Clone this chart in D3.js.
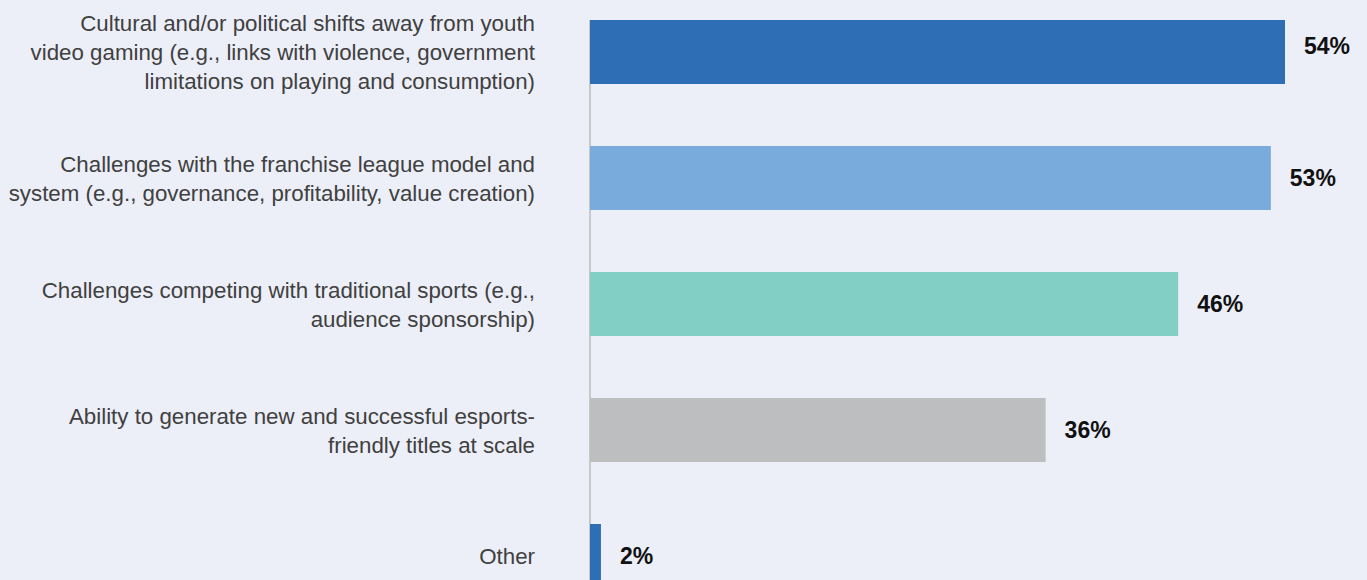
<!DOCTYPE html>
<html><head><meta charset="utf-8">
<script src="https://cdn.jsdelivr.net/npm/d3@7"></script>
<style>
html,body{margin:0;padding:0;background:#ECEFF8;overflow:hidden}
</style></head>
<body>
<svg id="c" width="1367" height="580"></svg>
<script>
const categories = [
  ["Cultural and/or political shifts away from youth","video gaming (e.g., links with violence, government","limitations on playing and consumption)"],
  ["Challenges with the franchise league model and","system (e.g., governance, profitability, value creation)"],
  ["Challenges competing with traditional sports (e.g.,","audience sponsorship)"],
  ["Ability to generate new and successful esports-","friendly titles at scale"],
  ["Other"]
];
const values = [54, 52.9, 45.7, 35.4, 0.85];
const valueLabels = ["54%", "53%", "46%", "36%", "2%"];
const colors = ["#2D6EB5", "#79ABDC", "#82CFC5", "#BDBEC0", "#2D6EB5"];

const svg = d3.select("#c");
const x0 = 590;
const x = d3.scaleLinear().domain([0, 54]).range([x0, 1285]);
const y = d3.scaleBand().domain(d3.range(categories.length)).range([-11, 619]).paddingInner(0.492).paddingOuter(0.246);

svg.append("line").attr("x1", x0).attr("x2", x0).attr("y1", 20).attr("y2", 580)
  .attr("stroke", "#C8C8C8").attr("stroke-width", 2);

svg.selectAll("rect.bar").data(values).join("rect").attr("class","bar")
  .attr("x", x(0)).attr("y", (d,i)=>y(i)).attr("width", d=>x(d)-x(0)).attr("height", y.bandwidth())
  .attr("fill", (d,i)=>colors[i]);

svg.selectAll("text.val").data(values).join("text").attr("class","val")
  .attr("x", d=>x(d)+19).attr("y", (d,i)=>y(i)+y.bandwidth()/2 - (i===0 ? 6 : 0))
  .attr("dy","0.36em")
  .attr("font-family","Liberation Sans, Arial, sans-serif").attr("font-weight","bold")
  .attr("font-size", 23).attr("fill","#111")
  .text((d,i)=>valueLabels[i]);

const lh = 29;
const g = svg.selectAll("text.cat").data(categories).join("text").attr("class","cat")
  .attr("text-anchor","end")
  .attr("font-family","Liberation Sans, Arial, sans-serif")
  .attr("font-size", 22.3).attr("fill","#404040");
g.each(function(lines,i){
  const cy = y(i)+y.bandwidth()/2;
  const top = cy - (lines.length-1)*lh/2;
  d3.select(this).selectAll("tspan").data(lines).join("tspan")
    .attr("x", 535).attr("y", (d,j)=>top + j*lh).attr("dy","0.36em").text(d=>d);
});
</script>
</body></html>
